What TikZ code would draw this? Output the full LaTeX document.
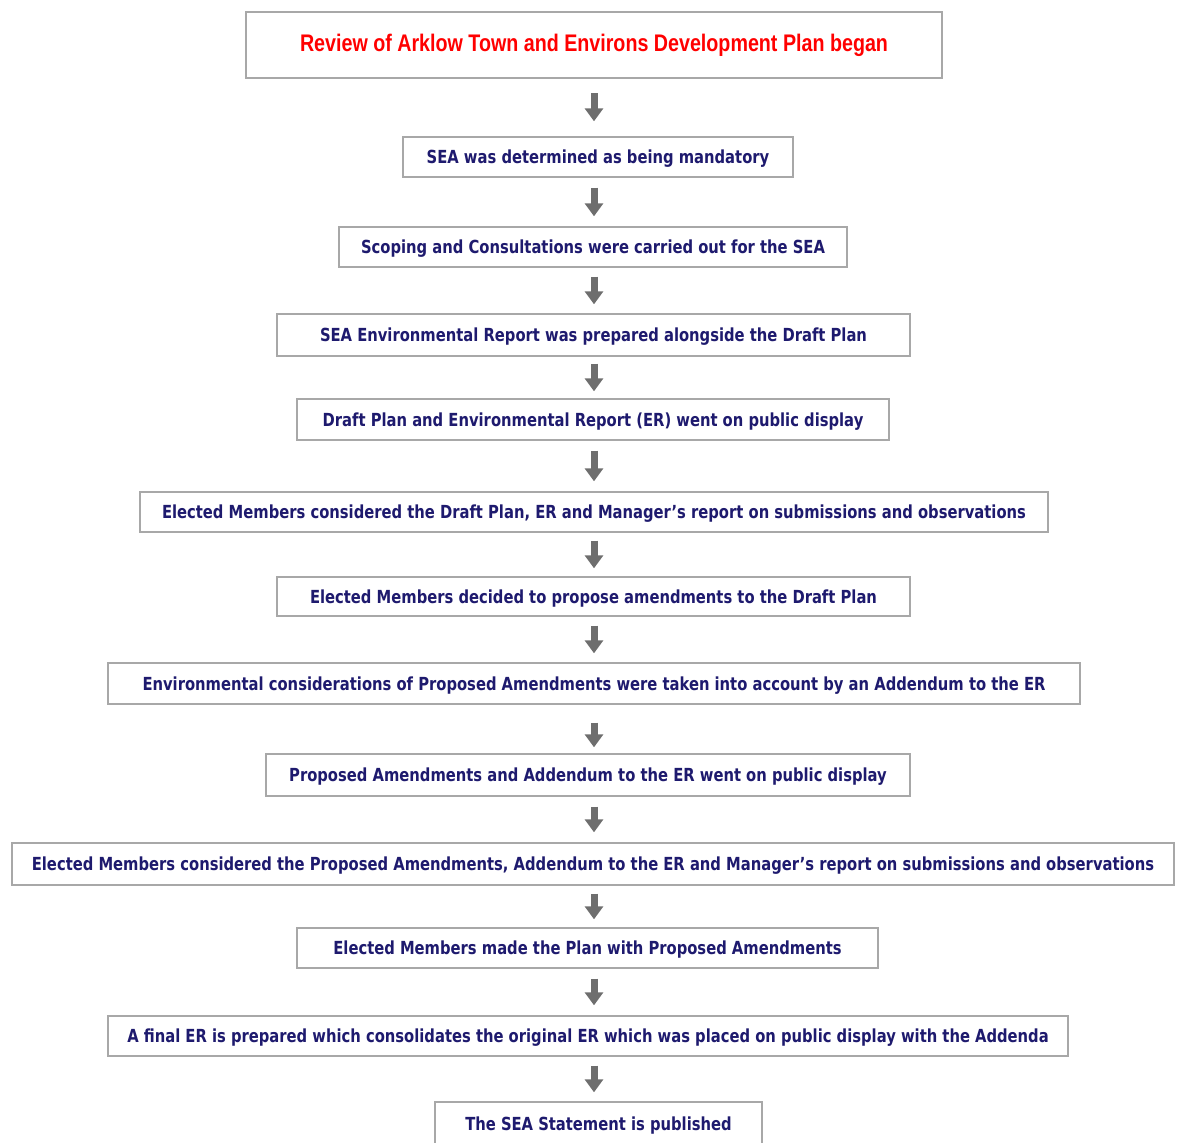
\documentclass[tikz,border=0pt]{standalone}
\usepackage{fontspec}
\newfontfamily\navyfont[FakeStretch=0.82]{DejaVu Sans}
\newfontfamily\redfont[FakeStretch=0.82]{Liberation Sans}
\usetikzlibrary{arrows.meta,calc}
\definecolor{navytxt}{HTML}{1E1A6E}
\definecolor{boxgray}{HTML}{A8A8A8}
\definecolor{arrgray}{HTML}{6E6E6E}
\tikzset{
  stepbox/.style={draw=boxgray, line width=1.4pt, fill=white, inner sep=0pt,
    text height=17pt, text depth=3.5pt,
    font=\navyfont\bfseries\fontsize{18}{21}\selectfont, text=navytxt},
  topbox/.style={draw=boxgray, line width=2.6pt, fill=white, inner sep=0pt,
    font=\redfont\bfseries\fontsize{24}{28}\selectfont, text=red},
  flowarrow/.style={draw=arrgray, line width=7pt,
    -{Triangle[width=18pt,length=13pt]}}
}
\newcommand{\flowstep}[4]{\draw[flowarrow, shorten <=#3pt, shorten >=#4pt] (#1.south -| ax) -- (#2.north -| ax);}
\begin{document}
\begin{tikzpicture}[x=1pt,y=-1pt]
\useasboundingbox (0,0) rectangle (1178,1143);
\begin{scope}
\clip (0,0) rectangle (1178,1143);
\coordinate (ax) at (594,0);
\node[topbox, minimum width=696pt, minimum height=66pt] (b1) at (594,45) {Review of Arklow Town and Environs Development Plan began};
\node[stepbox, minimum width=390pt, minimum height=40pt] (b2) at (598,157) {SEA was determined as being mandatory};
\node[stepbox, minimum width=508pt, minimum height=40pt] (b3) at (593,247) {Scoping and Consultations were carried out for the SEA};
\node[stepbox, minimum width=633pt, minimum height=42pt] (b4) at (593.5,335) {SEA Environmental Report was prepared alongside the Draft Plan};
\node[stepbox, minimum width=592pt, minimum height=41pt] (b5) at (593,419.5) {Draft Plan and Environmental Report (ER) went on public display};
\node[stepbox, minimum width=908pt, minimum height=40pt] (b6) at (594,512) {Elected Members considered the Draft Plan, ER and Manager’s report on submissions and observations};
\node[stepbox, minimum width=633pt, minimum height=39pt] (b7) at (593.5,596.5) {Elected Members decided to propose amendments to the Draft Plan};
\node[stepbox, minimum width=972pt, minimum height=41pt] (b8) at (594,683.5) {Environmental considerations of Proposed Amendments were taken into account by an Addendum to the ER};
\node[stepbox, minimum width=644pt, minimum height=42pt] (b9) at (588,775) {Proposed Amendments and Addendum to the ER went on public display};
\node[stepbox, minimum width=1162pt, minimum height=42pt] (b10) at (593,864) {Elected Members considered the Proposed Amendments, Addendum to the ER and Manager’s report on submissions and observations};
\node[stepbox, minimum width=581pt, minimum height=40pt] (b11) at (587.5,948) {Elected Members made the Plan with Proposed Amendments};
\node[stepbox, minimum width=960pt, minimum height=40pt] (b12) at (588,1036) {A final ER is prepared which consolidates the original ER which was placed on public display with the Addenda};
\node[stepbox, minimum width=327pt, minimum height=44pt] (b13) at (598.5,1124) {The SEA Statement is published};
\flowstep{b1}{b2}{14}{15}
\flowstep{b2}{b3}{10}{10}
\flowstep{b3}{b4}{9}{9}
\flowstep{b4}{b5}{7}{7}
\flowstep{b5}{b6}{10}{10}
\flowstep{b6}{b7}{8}{8}
\flowstep{b7}{b8}{9}{9}
\flowstep{b8}{b9}{18}{6}
\flowstep{b9}{b10}{10}{10}
\flowstep{b10}{b11}{8}{8}
\flowstep{b11}{b12}{10}{10}
\flowstep{b12}{b13}{9}{9}
\end{scope}
\end{tikzpicture}
\end{document}
